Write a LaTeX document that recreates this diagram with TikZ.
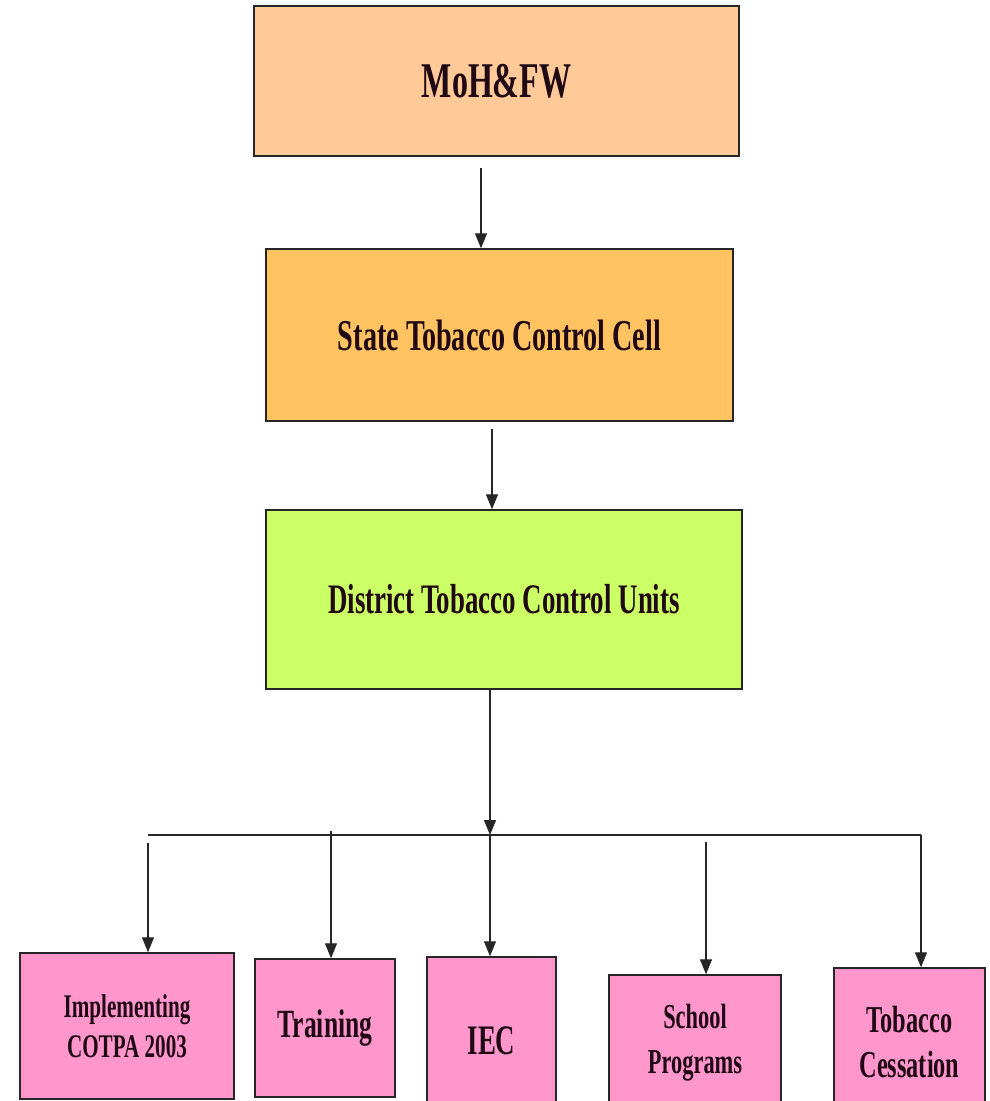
\documentclass[tikz,border=0pt]{standalone}
\usepackage{fontspec}
\setmainfont{Liberation Serif}
\newfontfamily\condfont[FakeStretch=0.64]{Liberation Serif}
\usetikzlibrary{arrows.meta}
\definecolor{peach}{RGB}{255,202,152}
\definecolor{orangebox}{RGB}{255,195,98}
\definecolor{limebox}{RGB}{204,255,102}
\definecolor{pinkbox}{RGB}{255,150,204}
\definecolor{txt}{RGB}{32,8,20}
\tikzset{
  boxstyle/.style={draw=black!85, line width=1.5pt, inner sep=0pt, align=center, text=txt},
  arr/.style={draw=black!85, line width=1.3pt, -{Triangle[length=15pt,width=12pt]}},
  plainline/.style={draw=black!85, line width=1.5pt},
}
\begin{document}
\begin{tikzpicture}[x=1pt,y=-1pt]
\useasboundingbox (0,0) rectangle (990,1101);
\clip (0,0) rectangle (990,1101);
\fill[white] (0,0) rectangle (990,1101);
% top levels
\node[boxstyle, fill=peach, minimum width=485pt, minimum height=150pt,
      font={\condfont\bfseries\fontsize{50}{56}\selectfont}] (moh) at (496.5,81) {MoH\&FW};
\node[boxstyle, fill=orangebox, minimum width=467pt, minimum height=172pt,
      font={\condfont\bfseries\fontsize{44}{50}\selectfont}] (stcc) at (499.5,335) {State Tobacco Control Cell};
\node[boxstyle, fill=limebox, minimum width=476pt, minimum height=179pt,
      font={\condfont\bfseries\fontsize{42}{48}\selectfont}] (dtcu) at (504,599.5) {District Tobacco Control Units};
% bottom level
\node[boxstyle, fill=pinkbox, minimum width=214pt, minimum height=146pt,
      font={\condfont\bfseries\fontsize{33}{40}\selectfont}] (b1) at (127,1026) {Implementing\\COTPA 2003};
\node[boxstyle, fill=pinkbox, minimum width=140pt, minimum height=138pt,
      font={\condfont\bfseries\fontsize{40}{46}\selectfont}] (b2) at (325,1028) {Training};
\node[boxstyle, fill=pinkbox, minimum width=129pt, minimum height=168pt,
      font={\condfont\bfseries\fontsize{42}{48}\selectfont}] (b3) at (491.5,1041) {IEC};
\node[boxstyle, fill=pinkbox, minimum width=172pt, minimum height=136pt,
      font={\condfont\bfseries\fontsize{35}{45}\selectfont}] (b4) at (695,1043) {School\\Programs};
\node[boxstyle, fill=pinkbox, minimum width=151pt, minimum height=148pt,
      font={\condfont\bfseries\fontsize{38}{45}\selectfont}] (b5) at (909.5,1042) {Tobacco\\Cessation};
% connector coordinates
\coordinate (a1s) at (481,168);
\coordinate (a2s) at (492,429);
\coordinate (bus) at (490,835);
\coordinate (busL) at (148,835);
\coordinate (busR) at (921,835);
\coordinate (d1) at (148,843);
\coordinate (d2) at (331,831);
\coordinate (d4) at (706,842);
% connectors
\draw[arr] (a1s) -- (a1s |- stcc.north);
\draw[arr] (a2s) -- (a2s |- dtcu.north);
\draw[arr] (dtcu.south -| bus) -- (bus);
\draw[plainline] (busL) -- (busR);
\draw[arr] (busR) -- (busR |- b5.north);
\draw[arr] (d1) -- (d1 |- b1.north);
\draw[arr] (d2) -- (d2 |- b2.north);
\draw[arr] (bus) -- (bus |- b3.north);
\draw[arr] (d4) -- (d4 |- b4.north);
\end{tikzpicture}
\end{document}
